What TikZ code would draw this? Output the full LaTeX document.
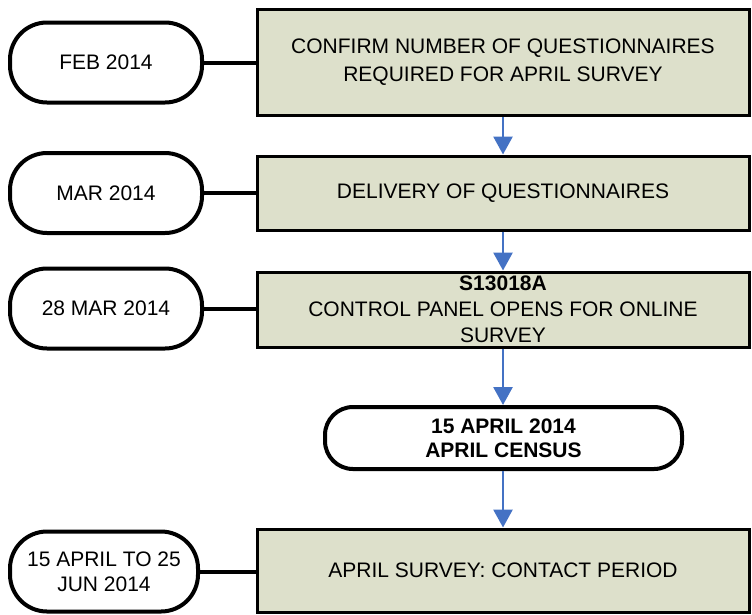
\documentclass[tikz,border=0pt]{standalone}
\usepackage{fontspec}
\setmainfont{Liberation Sans}
\usetikzlibrary{arrows.meta}
\definecolor{boxfill}{HTML}{DDE0CB}
\definecolor{arrowblue}{HTML}{4472C4}
\tikzset{
  datebox/.style = {draw, line width=4pt, rounded corners=37pt, fill=white,
    minimum width=192pt, minimum height=80pt, inner sep=0pt, align=center,
    font=\fontsize{21}{25}\selectfont},
  stagebox/.style = {draw, line width=3pt, fill=boxfill,
    minimum width=492pt, inner sep=0pt, align=center,
    font=\fontsize{21}{28}\selectfont},
  link/.style = {line width=4pt},
  flow/.style = {draw=arrowblue, line width=2.8pt, -{Triangle[width=19pt,length=18pt]}}
}
\begin{document}
\begin{tikzpicture}[x=1pt, y=-1pt]
\useasboundingbox (0,0) rectangle (752,614);

% stages
\node[stagebox, minimum height=106pt] (confirm) at (503,62.5)
  {CONFIRM NUMBER OF QUESTIONNAIRES\\REQUIRED FOR APRIL SURVEY};
\node[stagebox, minimum height=74pt] (delivery) at (503,193)
  {DELIVERY OF QUESTIONNAIRES};
\node[stagebox, minimum height=75pt, font=\fontsize{21}{26}\selectfont] (panel) at (503,309.5)
  {\textbf{S13018A}\\CONTROL PANEL OPENS FOR ONLINE\\SURVEY};
\node[datebox, minimum width=357pt, minimum height=62pt, rounded corners=28pt,
  font=\fontsize{21}{24}\selectfont] (census) at (503.5,438)
  {\textbf{15 APRIL 2014}\\\textbf{APRIL CENSUS}};
\node[stagebox, minimum height=83pt] (contact) at (503,570.5)
  {APRIL SURVEY: CONTACT PERIOD};

% dates
\node[datebox] (feb) at (106,62.5) {FEB 2014};
\node[datebox] (mar) at (106,193) {MAR 2014};
\node[datebox] (mar28) at (106,308.5) {28 MAR 2014};
\node[datebox, minimum width=188pt] (aprjun) at (104,571.5) {15 APRIL TO 25\\JUN 2014};

\draw[link] (feb) -- (confirm);
\draw[link] (mar) -- (delivery);
\draw[link] (mar28.east) -- (mar28.east -| panel.west);
\draw[link] (aprjun.east) -- (aprjun.east -| contact.west);

\draw[flow] (confirm) -- (delivery);
\draw[flow] (delivery) -- (panel);
\draw[flow] (panel.south) -- (panel.south |- census.north);
\draw[flow] (census.south -| panel.south) -- (contact.north -| panel.south);

\end{tikzpicture}
\end{document}
